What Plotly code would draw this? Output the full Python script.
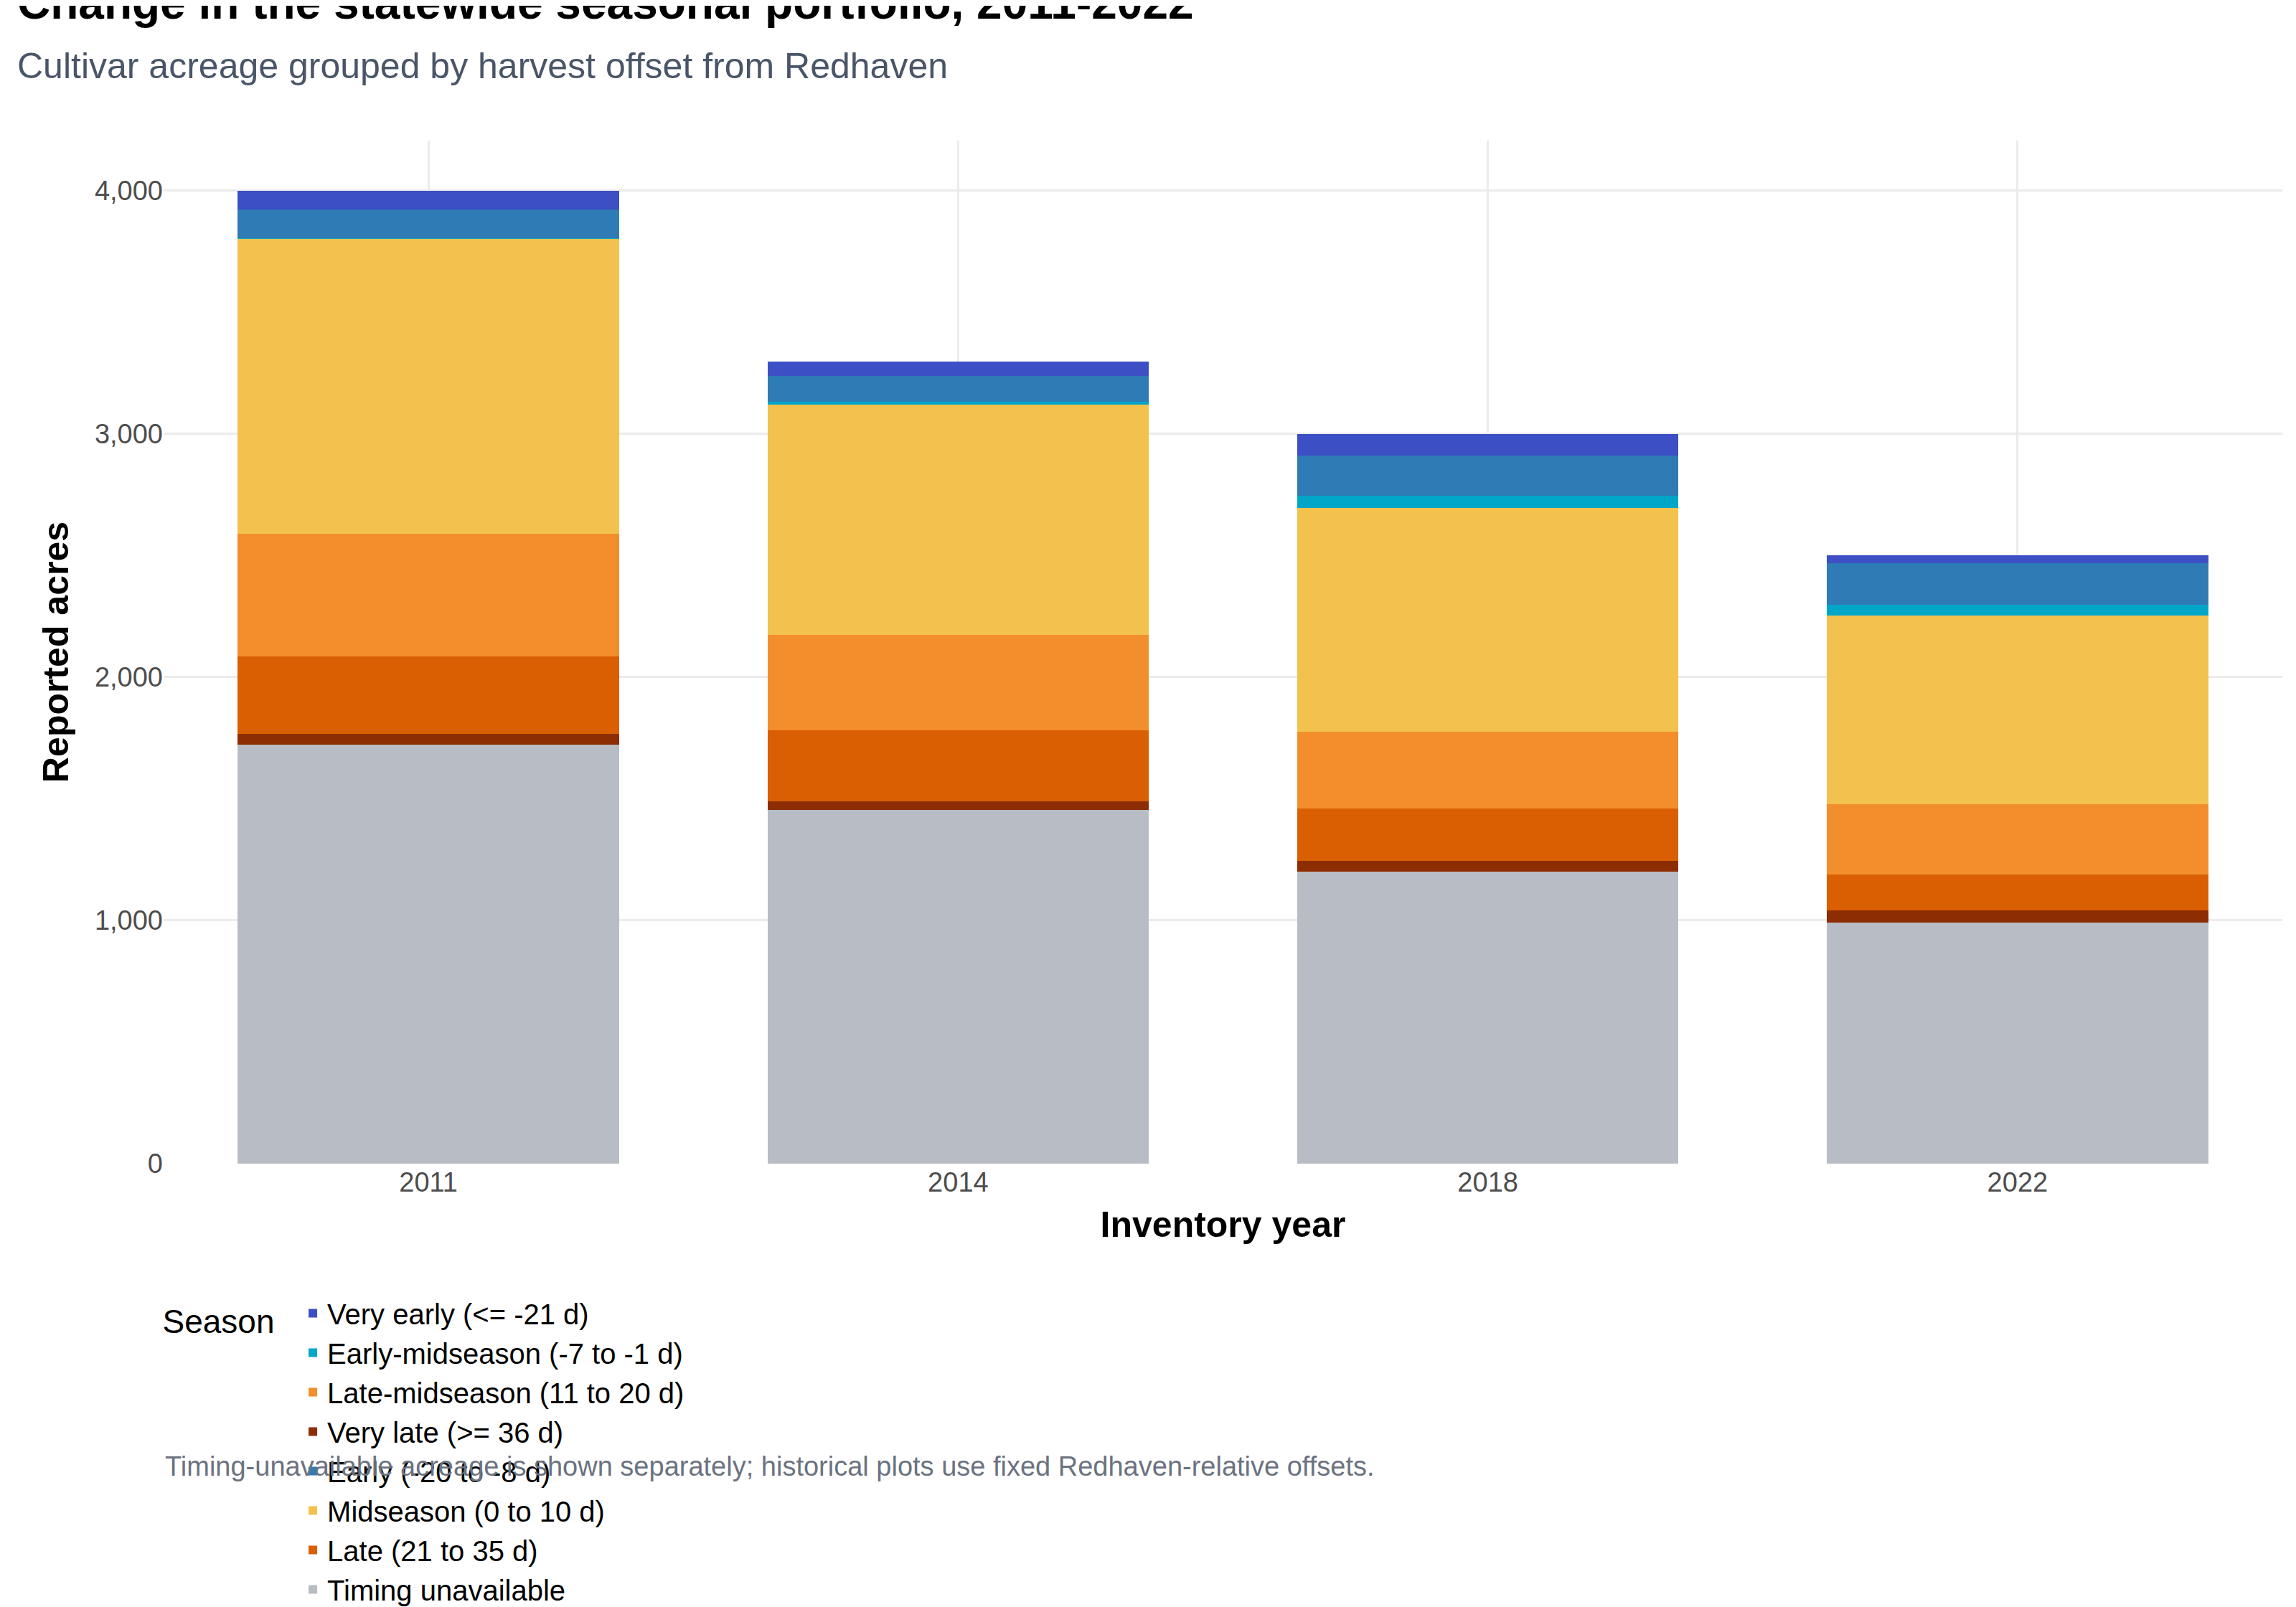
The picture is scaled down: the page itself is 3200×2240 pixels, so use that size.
import plotly.graph_objects as go

years = ["2011", "2014", "2018", "2022"]

# stacked bottom-up
timing_unavailable = [1721, 1455, 1201, 990]
very_late = [44, 33, 44, 50]
late = [321, 293, 216, 149]
late_mid = [503, 393, 315, 288]
midseason = [1212, 946, 918, 775]
early_mid = [4, 11, 50, 44]
early = [118, 106, 166, 172]
very_early = [77, 60, 89, 33]

series = [
    ("Timing unavailable", timing_unavailable, "#B8BCC4", 8),
    ("Very late (>= 36 d)", very_late, "#8C2D04", 4),
    ("Late (21 to 35 d)", late, "#D95F02", 7),
    ("Late-midseason (11 to 20 d)", late_mid, "#F28E2B", 3),
    ("Midseason (0 to 10 d)", midseason, "#F2C14E", 6),
    ("Early-midseason (-7 to -1 d)", early_mid, "#00A6C8", 2),
    ("Early (-20 to -8 d)", early, "#2E7BB6", 5),
    ("Very early (<= -21 d)", very_early, "#3D4FC4", 1),
]

fig = go.Figure()
for name, vals, col, rank in series:
    fig.add_trace(go.Bar(x=years, y=vals, name=name, marker_color=col,
                         marker_line_width=0, width=0.72, legendrank=rank))

fig.update_layout(
    barmode="stack",
    width=3200, height=2240,
    margin=dict(l=220, r=27, t=188, b=501),
    plot_bgcolor="white", paper_bgcolor="white",
    font=dict(family="Liberation Sans, Arial", size=36, color="#333333"),
    title=dict(text="<b>Change in the statewide seasonal portfolio, 2011-2022</b>"
                    "<br><span style='font-size:50px;color:#4A5568'>Cultivar acreage grouped by harvest offset from Redhaven</span>",
               x=0.005, xanchor="left", y=0.992, yanchor="top",
               font=dict(size=64, color="black")),
    legend=dict(orientation="h", x=0.07, xanchor="left", y=-0.115, yanchor="top",
                entrywidth=650, entrywidthmode="pixels",
                title=dict(text="Season  ", side="left", font=dict(size=46, color="black")),
                font=dict(size=40, color="black"), traceorder="normal", tracegroupgap=30),
    bargap=0.28,
)
fig.update_xaxes(title=dict(text="<b>Inventory year</b>", font=dict(size=50, color="black"), standoff=20),
                 showgrid=True, gridcolor="#EBEBEB", gridwidth=3, tickfont=dict(size=38, color="#4D4D4D"),
                 ticks="", showline=False)
fig.update_yaxes(title=dict(text="<b>Reported acres</b>", font=dict(size=50, color="black"), standoff=20),
                 range=[0, 4205], tickvals=[0, 1000, 2000, 3000, 4000], tickformat=",",
                 showgrid=True, gridcolor="#EBEBEB", gridwidth=3, zeroline=False,
                 tickfont=dict(size=38, color="#4D4D4D"))
fig.add_annotation(text="Timing-unavailable acreage is shown separately; historical plots use fixed Redhaven-relative offsets.",
                   xref="paper", yref="paper", x=0, xanchor="left", y=-0.28, yanchor="top",
                   showarrow=False, font=dict(size=38, color="#6B7280"))

fig.write_html("out.html")
